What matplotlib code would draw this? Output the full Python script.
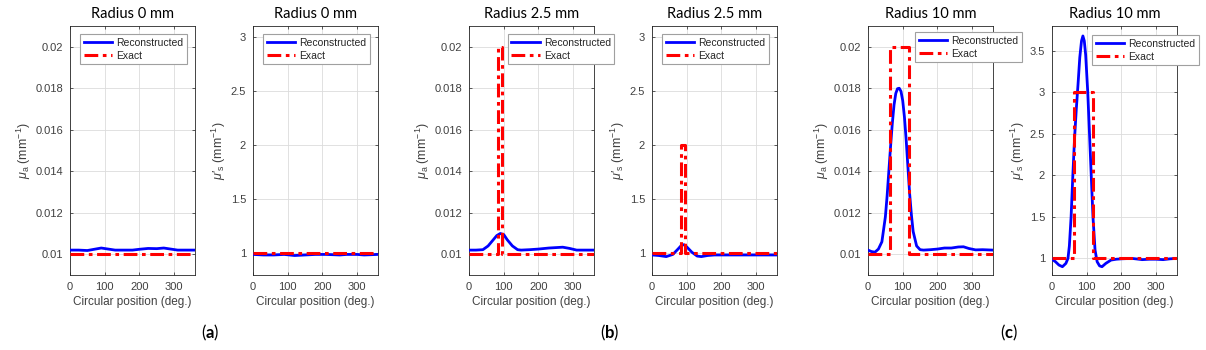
import numpy as np
import matplotlib
matplotlib.use("Agg")
import matplotlib.pyplot as plt

plt.rcParams.update({
    "font.family": "Liberation Sans",
    "mathtext.fontset": "custom",
    "mathtext.rm": "Liberation Sans",
    "mathtext.it": "Liberation Sans:italic",
    "mathtext.bf": "Lato:bold",
})

# ---- data (angle in deg.) ----
# Radius 0 mm
r0_mua_deg = [0, 25, 50, 70, 90, 110, 130, 180, 200, 225, 250, 270, 290, 310, 360]
r0_mua_rec = [0.0102, 0.0102, 0.01018, 0.01024, 0.0103, 0.01025, 0.0102, 0.0102,
              0.01024, 0.01028, 0.01027, 0.0103, 0.01025, 0.0102, 0.0102]
r0_mua_exact_deg = [0, 360]
r0_mua_exact = [0.01, 0.01]

r0_mus_deg = [0, 30, 60, 90, 120, 150, 180, 210, 250, 270, 300, 320, 360]
r0_mus_rec = [0.99, 0.985, 0.985, 0.99, 0.98, 0.985, 0.99, 0.99, 0.985, 0.99,
              0.99, 0.985, 0.99]
r0_mus_exact_deg = [0, 360]
r0_mus_exact = [1.0, 1.0]

# Radius 2.5 mm
r25_mua_deg = [0, 20, 40, 55, 70, 80, 90, 100, 110, 125, 140, 150, 175, 200, 230,
               270, 290, 310, 360]
r25_mua_rec = [0.0102, 0.0102, 0.01022, 0.0104, 0.0107, 0.0109, 0.0110, 0.01095,
               0.0107, 0.0104, 0.01022, 0.0102, 0.01022, 0.01025, 0.0103,
               0.01034, 0.01028, 0.0102, 0.0102]
r25_mua_exact_deg = [0, 84, 84, 96, 96, 360]
r25_mua_exact = [0.01, 0.01, 0.02, 0.02, 0.01, 0.01]

r25_mus_deg = [0, 20, 41, 60, 75, 85, 92, 100, 115, 130, 142, 160, 180, 220, 260,
               300, 360]
r25_mus_rec = [0.985, 0.98, 0.97, 0.99, 1.04, 1.075, 1.08, 1.06, 1.01, 0.975,
               0.97, 0.98, 0.985, 0.985, 0.985, 0.985, 0.985]
r25_mus_exact_deg = [0, 84, 84, 96, 96, 360]
r25_mus_exact = [1.0, 1.0, 2.0, 2.0, 1.0, 1.0]

# Radius 10 mm
r10_mua_deg = [0, 10, 20, 30, 40, 50, 55, 60, 65, 70, 75, 80, 85, 90, 95, 100,
               105, 110, 115, 120, 125, 130, 140, 150, 160, 180, 200, 220, 240,
               260, 275, 290, 310, 330, 360]
r10_mua_rec = [0.0102, 0.01013, 0.0101, 0.01025, 0.0106, 0.0118, 0.0128, 0.0140,
               0.0152, 0.0163, 0.0172, 0.01775, 0.01798, 0.0180, 0.01785, 0.0174,
               0.0166, 0.0155, 0.0142, 0.0129, 0.0119, 0.0111, 0.0104, 0.01022,
               0.0102, 0.01022, 0.01025, 0.0103, 0.0103, 0.01035, 0.01036,
               0.01028, 0.01021, 0.01022, 0.0102]
r10_mua_exact_deg = [0, 62, 62, 118, 118, 360]
r10_mua_exact = [0.01, 0.01, 0.02, 0.02, 0.01, 0.01]

r10_mus_deg = [0, 10, 20, 30, 40, 46, 50, 55, 60, 65, 70, 75, 80, 85, 89, 93, 97,
               103, 108, 113, 118, 124, 130, 137, 144, 155, 170, 185, 200, 230,
               260, 280, 300, 320, 340, 360]
r10_mus_rec = [0.99, 0.96, 0.92, 0.90, 0.94, 1.0, 1.15, 1.5, 2.0, 2.45, 2.8, 3.1,
               3.42, 3.62, 3.68, 3.62, 3.45, 3.0, 2.5, 2.0, 1.5, 1.1, 0.96, 0.91,
               0.90, 0.94, 0.98, 0.99, 0.995, 1.0, 0.985, 0.99, 0.99, 0.985,
               0.995, 1.0]
r10_mus_exact_deg = [0, 62, 62, 118, 118, 360]
r10_mus_exact = [1.0, 1.0, 3.0, 3.0, 1.0, 1.0]

titles = ["Radius 0 mm", "Radius 0 mm", "Radius 2.5 mm", "Radius 2.5 mm",
          "Radius 10 mm", "Radius 10 mm"]
group_labels = ["a", "b", "c"]
mua_ticks = [0.01, 0.012, 0.014, 0.016, 0.018, 0.02]
mus_ticks = [1, 1.5, 2, 2.5, 3]
mus_ticks_10 = [1, 1.5, 2, 2.5, 3, 3.5]

panels = [
    (r0_mua_deg, r0_mua_rec, r0_mua_exact_deg, r0_mua_exact),
    (r0_mus_deg, r0_mus_rec, r0_mus_exact_deg, r0_mus_exact),
    (r25_mua_deg, r25_mua_rec, r25_mua_exact_deg, r25_mua_exact),
    (r25_mus_deg, r25_mus_rec, r25_mus_exact_deg, r25_mus_exact),
    (r10_mua_deg, r10_mua_rec, r10_mua_exact_deg, r10_mua_exact),
    (r10_mus_deg, r10_mus_rec, r10_mus_exact_deg, r10_mus_exact),
]

W, H = 1206, 350
fig = plt.figure(figsize=(W / 100, H / 100), dpi=100)

lefts = [70, 253, 469, 652, 868, 1052]
legend_anchor = [(0.08, 0.968), (0.08, 0.968), (0.31, 0.968), (0.08, 0.968),
                 (0.376, 0.976), (0.32, 0.964)]
ink = "#404040"

for k, (deg, rec, edeg, ex) in enumerate(panels):
    ax = fig.add_axes([lefts[k] / W, 75 / H, 125 / W, 249 / H])
    ax.plot(deg, rec, color="#0000ff", lw=2.0, label="Reconstructed", zorder=3)
    ax.plot(edeg, ex, color="#ff0000", lw=2.2, ls=(0, (4.5, 1.5, 1.2, 1.5)),
            label="Exact", zorder=4)
    ax.set_xlim(0, 360)
    ax.set_xticks([0, 100, 200, 300])
    if k % 2 == 0:
        ax.set_ylim(0.009, 0.021)
        ax.set_yticks(mua_ticks)
        ax.set_yticklabels([f"{t:g}" for t in mua_ticks])
        ax.set_ylabel(r"$\mu_{\mathrm{a}}$ (mm$^{-1}$)", fontsize=9, color=ink,
                      labelpad=2)
    else:
        if k == 5:
            ax.set_ylim(0.8, 3.8)
            ax.set_yticks(mus_ticks_10)
            ax.set_yticklabels([f"{t:g}" for t in mus_ticks_10])
        else:
            ax.set_ylim(0.8, 3.1)
            ax.set_yticks(mus_ticks)
            ax.set_yticklabels([f"{t:g}" for t in mus_ticks])
        ax.set_ylabel(r"$\mu\prime_{\mathrm{s}}$ (mm$^{-1}$)", fontsize=9,
                      color=ink, labelpad=2)
    ax.set_xlabel("Circular position (deg.)", fontsize=8.5, color=ink, labelpad=3)
    ax.set_title(titles[k], fontsize=10.5, family="Lato", pad=6)
    ax.grid(True, color="#dcdcdc", lw=0.6)
    ax.set_axisbelow(True)
    for s in ax.spines.values():
        s.set_color("#262626")
        s.set_linewidth(0.6)
    ax.tick_params(direction="in", length=2.5, width=0.6, top=True, right=True,
                   labelsize=8, colors=ink, pad=5)
    leg = ax.legend(loc="upper left", bbox_to_anchor=legend_anchor[k],
                    fontsize=7.5, handlelength=2.7, borderpad=0.35,
                    labelspacing=0.3, handletextpad=0.4, borderaxespad=0.0,
                    fancybox=False, framealpha=1.0, edgecolor="#a0a0a0")
    leg.get_frame().set_linewidth(0.8)
    for t in leg.get_texts():
        t.set_color("#262626")

for i, lab in enumerate(group_labels):
    fig.text([210, 610, 1009][i] / W, 1 - 333 / H, f"($\\mathbf{{{lab}}}$)",
             family="Lato", fontsize=12, ha="center", va="center")

fig.savefig("out.png", dpi=100)
